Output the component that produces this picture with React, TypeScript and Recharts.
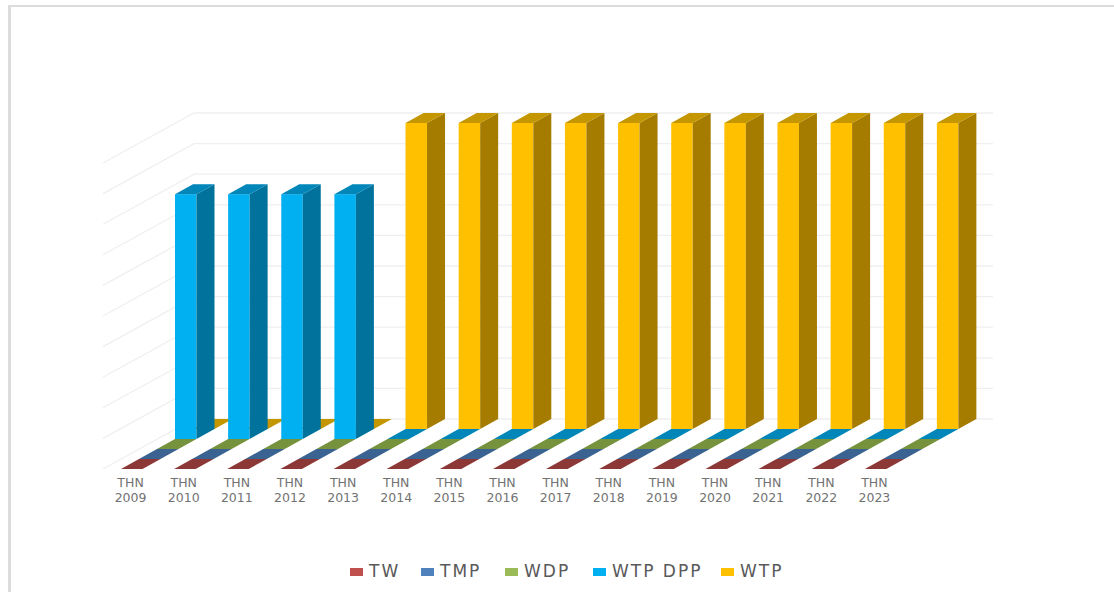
import { Bar, BarChart, CartesianGrid, Legend, XAxis, YAxis } from "recharts";

const years = [
  "2009", "2010", "2011", "2012", "2013", "2014", "2015", "2016",
  "2017", "2018", "2019", "2020", "2021", "2022", "2023",
];
const tw = [0, 0, 0, 0, 0, 0, 0, 0, 0, 0, 0, 0, 0, 0, 0];
const tmp = [0, 0, 0, 0, 0, 0, 0, 0, 0, 0, 0, 0, 0, 0, 0];
const wdp = [0, 0, 0, 0, 0, 0, 0, 0, 0, 0, 0, 0, 0, 0, 0];
const wtpDpp = [80, 80, 80, 80, 0, 0, 0, 0, 0, 0, 0, 0, 0, 0, 0];
const wtp = [0, 0, 0, 0, 100, 100, 100, 100, 100, 100, 100, 100, 100, 100, 100];
const yTicks = [0, 10, 20, 30, 40, 50, 60, 70, 80, 90, 100];

const rows = years.map((year, i) => ({
  year,
  tw: tw[i],
  tmp: tmp[i],
  wdp: wdp[i],
  wtpDpp: wtpDpp[i],
  wtp: wtp[i],
}));

// front to back, the way the legend reads
const SERIES = [
  { key: "tw", name: "TW", front: "#c0504d", top: "#8c3836", side: "#7a302e" },
  { key: "tmp", name: "TMP", front: "#4f81bd", top: "#3a6391", side: "#30537a" },
  { key: "wdp", name: "WDP", front: "#9bbb59", top: "#76923c", side: "#627a32" },
  { key: "wtpDpp", name: "WTP DPP", front: "#00b0f0", top: "#0086b8", side: "#00729c" },
  { key: "wtp", name: "WTP", front: "#ffc000", top: "#c49600", side: "#a67c00" },
];

const WIDTH = 1114;
const HEIGHT = 592;
const LEFT = 105;
const RIGHT_EDGE = 902;
const BAR = 21.5;
const ROW_DX = 18;
const ROW_DY = 10;
const WALL_DX = 91;
const WALL_DY = 50;
const LEGEND_X = [0, 71, 155, 243, 371];

const pts = (list: number[][]) => list.map((p) => p.join(",")).join(" ");

function cuboid(row: number, s: (typeof SERIES)[number]) {
  return function Cuboid(props: any) {
    const x = props.x + row * ROW_DX;
    const w = props.width;
    const yTop = props.y - row * ROW_DY;
    const yBottom = yTop + props.height;
    const bx = x + ROW_DX;
    return (
      <g>
        {props.height > 0 && (
          <>
            <rect x={x} y={yTop} width={w} height={props.height} fill={s.front} />
            <polygon
              points={pts([
                [x + w, yTop],
                [bx + w, yTop - ROW_DY],
                [bx + w, yBottom - ROW_DY],
                [x + w, yBottom],
              ])}
              fill={s.side}
            />
          </>
        )}
        <polygon
          points={pts([
            [x, yTop],
            [bx, yTop - ROW_DY],
            [bx + w, yTop - ROW_DY],
            [x + w, yTop],
          ])}
          fill={s.top}
        />
      </g>
    );
  };
}

function wallLine({ y1 }: any) {
  return (
    <polyline
      key={y1}
      points={pts([
        [LEFT - 2, y1],
        [LEFT - 2 + WALL_DX, y1 - WALL_DY],
        [RIGHT_EDGE + WALL_DX, y1 - WALL_DY],
      ])}
      fill="none"
      stroke="#efefef"
      strokeWidth={1.3}
    />
  );
}

function YearTick({ x, y, payload }: any) {
  return (
    <text
      x={x}
      y={y}
      textAnchor="middle"
      fontFamily="'DejaVu Sans'"
      fontSize={12.5}
      fill="#727272"
    >
      <tspan x={x - 1} dy={10}>THN</tspan>
      <tspan x={x - 1} dy={15}>{payload.value}</tspan>
    </text>
  );
}

function LegendRow() {
  return (
    <div
      style={{
        position: "relative",
        width: 440,
        height: 20,
        fontFamily: "'DejaVu Sans'",
        fontSize: 17,
        lineHeight: "20px",
        letterSpacing: 2,
        color: "#595959",
        whiteSpace: "nowrap",
      }}
    >
      {SERIES.map((s, i) => (
        <div key={s.key} style={{ position: "absolute", left: LEGEND_X[i], top: 0 }}>
          <span
            style={{
              position: "absolute",
              left: 0,
              top: 7,
              width: 13,
              height: 8,
              background: s.front,
            }}
          />
          <span style={{ marginLeft: 19 }}>{s.name}</span>
        </div>
      ))}
    </div>
  );
}

export default function App() {
  return (
    <div
      style={{
        position: "absolute",
        left: 0,
        top: 0,
        width: WIDTH,
        height: HEIGHT,
        overflow: "hidden",
        background: "#fff",
      }}
    >
      <div
        style={{
          position: "absolute",
          left: 8,
          top: 5,
          right: 0,
          bottom: 0,
          borderLeft: "3px solid #dcdcdc",
          borderTop: "2px solid #dcdcdc",
        }}
      />
      <BarChart
        width={WIDTH}
        height={HEIGHT}
        data={rows}
        barSize={BAR}
        barGap={-BAR}
        margin={{ top: 163, right: WIDTH - RIGHT_EDGE, bottom: 63, left: LEFT }}
        style={{ position: "absolute", left: 0, top: 0 }}
      >
        <CartesianGrid vertical={false} horizontal={wallLine} />
        <YAxis hide domain={[0, 100]} ticks={yTicks} interval={0} />
        <XAxis
          dataKey="year"
          height={40}
          interval={0}
          axisLine={false}
          tickLine={false}
          tick={<YearTick />}
        />
        {[...SERIES].reverse().map((s) => (
          <Bar
            key={s.key}
            dataKey={s.key}
            name={s.name}
            fill={s.front}
            isAnimationActive={false}
            shape={cuboid(SERIES.indexOf(s), s)}
          />
        ))}
        <Legend
          content={<LegendRow />}
          wrapperStyle={{ position: "absolute", left: 350, top: 561, width: "auto" }}
        />
      </BarChart>
    </div>
  );
}
